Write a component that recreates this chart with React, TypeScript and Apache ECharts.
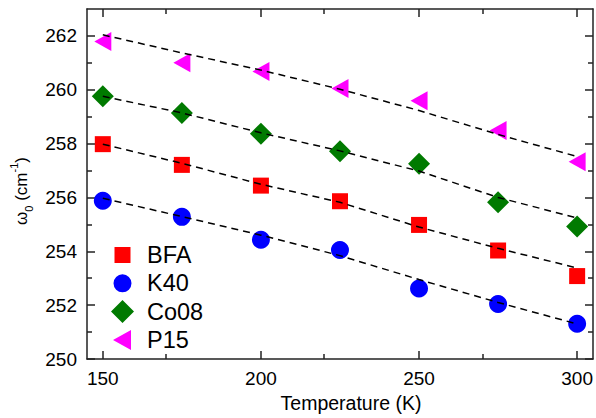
import React, { useEffect, useRef } from "react";
import * as echarts from "echarts";

const temps = [150, 175, 200, 225, 250, 275, 300];

const bfa = [257.98, 257.21, 256.44, 255.86, 254.98, 254.03, 253.08];
const k40 = [255.88, 255.28, 254.43, 254.05, 252.62, 252.04, 251.31];
const co08 = [259.76, 259.14, 258.37, 257.72, 257.25, 255.82, 254.92];
const p15 = [261.79, 261.0, 260.68, 260.05, 259.59, 258.49, 257.33];

const fitBfa = [257.98, 257.27, 256.49, 255.82, 254.9, 254.11, 253.38];
const fitK40 = [255.97, 255.29, 254.6, 253.84, 252.95, 252.1, 251.3];
const fitCo08 = [259.76, 259.14, 258.4, 257.73, 256.98, 256.0, 255.24];
const fitP15 = [262.04, 261.37, 260.73, 260.02, 259.23, 258.34, 257.52];

const xTicks = [150, 200, 250, 300];
const yTicks = [250, 252, 254, 256, 258, 260, 262];

const FONT = "Liberation Sans, Arial, sans-serif";

// legend icons drawn in a common 23x23 box (corner points fix the box)
const BOX = "M0,0 Z M23,23 Z ";
const ICON_SQUARE = "path://" + BOX + "M3.5,3.5 L19.5,3.5 L19.5,19.5 L3.5,19.5 Z";
const ICON_CIRCLE = "path://" + BOX + "M2.5,11.5 A9,9 0 1,1 20.5,11.5 A9,9 0 1,1 2.5,11.5 Z";
const ICON_DIAMOND = "path://" + BOX + "M11.5,0 L23,11.5 L11.5,23 L0,11.5 Z";
const ICON_TRI = "path://" + BOX + "M2,11.5 L20,1.5 L20,21.5 Z";

function pairs(vals: number[]) {
  return temps.map((t, i) => [t, vals[i]]);
}

export default function App() {
  const ref = useRef<HTMLDivElement>(null);
  useEffect(() => {
    if (!ref.current) return;
    const chart = echarts.init(ref.current, undefined, { renderer: "svg" });
    const axisLine = { show: true, lineStyle: { color: "#222", width: 1.5 } };
    const tick = { show: true, inside: true, length: 8, lineStyle: { color: "#222", width: 1.5 } };
    const minor = { show: true, splitNumber: 2, length: 5, lineStyle: { color: "#222", width: 1.5 } };
    const fitStyle = { color: "#000", width: 1.5, type: [7, 5] as any };
    const mk = (name: string, vals: number[], symbol: string, size: any, color: string, rot = 0) => ({
      type: "scatter",
      name,
      data: pairs(vals),
      symbol,
      symbolSize: size,
      symbolRotate: rot,
      itemStyle: { color, opacity: 1 },
      z: 3,
    });
    const fit = (vals: number[]) => ({
      type: "line",
      data: pairs(vals),
      symbol: "none",
      lineStyle: fitStyle,
      silent: true,
      z: 4,
    });
    chart.setOption({
      animation: false,
      grid: { left: 87, right: 2, top: 9, bottom: 55 },
      xAxis: [
        {
          type: "value",
          min: 145,
          max: 305,
          interval: 50,
          axisLine: { ...axisLine, onZero: false },
          axisTick: { ...tick, customValues: xTicks },
          minorTick: minor,
          splitLine: { show: false },
          axisLabel: {
            color: "#000",
            fontSize: 19,
            fontFamily: FONT,
            margin: 10,
            customValues: xTicks,
          },
          name: "Temperature (K)",
          nameLocation: "middle",
          nameGap: 34,
          nameTextStyle: { color: "#000", fontSize: 19.5, fontFamily: FONT, padding: [0, 0, 0, 22] },
        },
        {
          type: "value",
          position: "top",
          min: 145,
          max: 305,
          interval: 50,
          axisLine: { ...axisLine, onZero: false },
          axisTick: { ...tick, customValues: xTicks },
          minorTick: minor,
          splitLine: { show: false },
          axisLabel: { show: false },
        },
      ],
      yAxis: [
        {
          type: "value",
          min: 250,
          max: 263,
          interval: 2,
          axisLine: { ...axisLine, onZero: false },
          axisTick: { ...tick, customValues: yTicks },
          minorTick: minor,
          splitLine: { show: false },
          axisLabel: {
            color: "#000",
            fontSize: 19,
            fontFamily: FONT,
            margin: 10,
            customValues: yTicks,
          },
          name: "{n|ω}{sub|0}{n| (cm}{sup|-1}{n|)}",
          nameLocation: "middle",
          nameGap: 37,
          nameTextStyle: {
            color: "#000",
            fontFamily: FONT,
            padding: [0, 14, 0, 0],
            rich: {
              n: { fontSize: 17, fontFamily: FONT, color: "#000", lineHeight: 26 },
              sub: { fontSize: 11, fontFamily: FONT, color: "#000", verticalAlign: "bottom", lineHeight: 11 },
              sup: { fontSize: 11, fontFamily: FONT, color: "#000", verticalAlign: "top", lineHeight: 11 },
            },
          },
        },
        {
          type: "value",
          position: "right",
          min: 250,
          max: 263,
          interval: 2,
          axisLine: { ...axisLine, onZero: false },
          axisTick: { ...tick, customValues: yTicks },
          minorTick: minor,
          splitLine: { show: false },
          axisLabel: { show: false },
        },
      ],
      legend: {
        orient: "vertical",
        left: 111,
        top: 243,
        padding: 0,
        itemWidth: 23,
        itemHeight: 23,
        itemGap: 4.3,
        data: [
          { name: "BFA", icon: ICON_SQUARE },
          { name: "K40", icon: ICON_CIRCLE },
          { name: "Co08", icon: ICON_DIAMOND },
          { name: "P15", icon: ICON_TRI },
        ],
        textStyle: { color: "#000", fontSize: 23.5, fontFamily: FONT, lineHeight: 24, padding: [0, 0, 0, 8] },
      },
      series: [
        fit(fitBfa),
        fit(fitK40),
        fit(fitCo08),
        fit(fitP15),
        mk("BFA", bfa, "rect", 16, "#ff0000"),
        mk("K40", k40, "circle", 18, "#0000ff"),
        mk("Co08", co08, "diamond", 22, "#007a00"),
        mk("P15", p15, "triangle", [19, 17], "#ff00ff", 90),
      ],
    });
    return () => chart.dispose();
  }, []);
  return <div ref={ref} style={{ width: 596, height: 418, position: "absolute", left: 0, top: 0 }} />;
}
